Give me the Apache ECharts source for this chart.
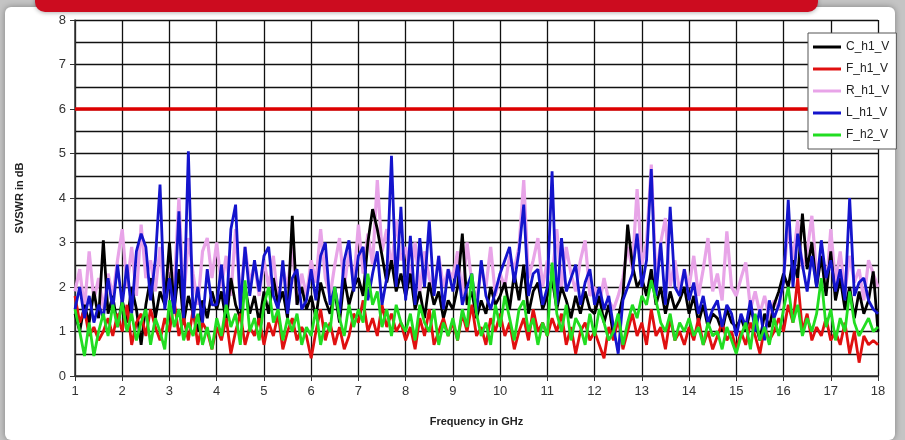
<!DOCTYPE html>
<html>
<head>
<meta charset="utf-8">
<script src="https://cdn.jsdelivr.net/npm/echarts@6/dist/echarts.min.js"></script>
<style>
html,body{margin:0;padding:0;background:#fff;}
#chart{width:905px;height:440px;}
</style>
</head>
<body>
<div id="chart"></div>
<script>
// Frequency grid (GHz), sampled every 0.1 GHz from 1 to 18
const freqStart = 1, freqStep = 0.1, freqCount = 171;
const freqGHz = Array.from({length: freqCount}, (_, i) => +(freqStart + i * freqStep).toFixed(1));

const seriesNames = ['C_h1_V', 'F_h1_V', 'R_h1_V', 'L_h1_V', 'F_h2_V'];
const limitValue = 6;
const xTicks = [1,2,3,4,5,6,7,8,9,10,11,12,13,14,15,16,17,18];
const yTicks = [0,1,2,3,4,5,6,7,8];

const C_h1_V = [
 1.4,1.0,1.6,1.2,1.9,1.3,3.05,1.4,1.8,1.1,
 1.7,1.2,2.0,1.5,0.7,1.6,2.2,1.3,1.9,1.6,
 3.0,1.5,2.4,1.2,1.8,1.4,1.0,1.7,1.3,1.9,
 1.5,1.9,1.2,2.2,1.6,1.3,2.0,1.4,1.8,1.2,
 1.9,1.4,2.2,1.6,1.9,1.3,3.6,1.6,2.0,1.5,
 1.8,1.3,2.1,1.7,1.4,1.9,1.2,2.2,1.6,2.0,
 2.2,1.8,3.0,3.75,3.3,2.7,2.1,2.6,1.9,2.3,
 1.8,2.3,1.5,1.9,1.3,2.1,1.6,1.9,1.3,1.7,
 1.5,2.0,3.2,1.6,1.9,1.3,1.7,1.4,2.0,1.6,
 1.8,2.1,1.5,2.3,1.7,2.5,1.4,1.9,2.1,1.5,
 1.8,2.2,1.5,2.0,1.7,1.3,1.8,1.4,1.9,1.5,
 1.4,1.8,1.2,1.6,0.9,1.3,1.8,3.4,2.5,2.0,
 2.2,1.8,2.4,1.6,2.0,1.4,1.9,1.5,1.7,2.0,
 1.4,1.8,1.2,1.6,1.1,1.4,1.3,1.0,1.5,1.2,
 1.1,1.3,1.0,1.5,1.2,0.8,1.4,1.1,1.6,1.9,
 2.3,2.0,2.6,2.2,3.65,2.4,3.0,2.0,2.7,1.8,
 2.8,1.7,2.2,1.5,2.0,1.3,1.9,1.4,1.7,2.35,
 1.0
];

const F_h1_V = [
 1.8,1.2,1.5,0.9,1.1,0.8,1.0,1.3,0.9,1.4,
 1.0,1.6,0.7,1.2,1.4,0.9,1.5,1.1,0.8,1.3,
 1.0,1.7,0.9,1.3,0.8,1.5,0.7,1.2,1.0,0.6,
 1.1,0.8,1.3,0.5,1.0,1.4,0.7,1.1,0.9,1.3,
 0.7,1.2,0.9,1.4,0.6,1.0,1.3,0.8,1.1,0.9,
 0.4,1.0,1.5,0.8,1.2,0.7,1.1,0.6,0.9,1.4,
 1.2,1.7,1.0,1.3,0.9,1.6,1.1,1.4,1.0,1.2,
 0.8,1.1,0.6,1.3,0.9,1.5,0.7,1.0,1.3,0.9,
 1.2,0.8,1.4,1.0,1.6,0.9,1.1,0.7,1.3,1.0,
 1.4,0.9,1.2,0.6,1.0,1.3,0.8,1.5,1.0,1.2,
 0.9,1.3,1.0,1.4,0.7,1.1,0.5,1.0,1.2,0.8,
 1.0,0.7,0.4,1.1,0.8,1.3,0.6,1.0,1.4,0.9,
 1.2,0.7,1.5,0.9,1.1,0.6,1.3,0.8,1.0,0.7,
 1.1,0.8,1.3,0.7,1.0,0.6,0.9,1.2,0.8,1.0,
 0.6,1.0,0.7,1.2,0.9,0.5,1.1,0.8,1.0,1.3,
 1.0,1.6,1.2,2.2,1.0,1.4,0.8,1.1,0.9,1.3,
 0.8,1.0,0.7,1.2,0.5,1.0,0.3,0.9,0.7,0.8,
 0.7
];

const R_h1_V = [
 1.9,2.4,1.5,2.8,1.7,2.2,1.5,2.3,1.8,2.6,
 3.3,2.0,2.9,1.8,3.4,2.2,2.6,1.9,2.9,1.7,
 2.6,2.0,4.0,1.7,3.1,2.3,1.6,2.8,3.1,2.2,
 3.0,2.0,2.7,1.8,3.3,1.7,2.9,2.1,2.5,1.8,
 2.6,2.0,2.7,1.6,2.4,2.0,2.9,1.6,2.3,1.8,
 2.6,2.1,3.3,2.2,1.8,2.5,3.1,2.0,2.8,2.1,
 3.4,2.3,3.2,2.5,4.4,2.8,3.3,2.4,3.5,2.6,
 2.9,2.2,3.0,1.9,2.8,2.2,1.9,2.7,2.0,2.4,
 2.2,2.8,1.8,3.0,2.1,1.7,2.4,2.0,2.9,1.8,
 2.3,2.0,2.7,2.4,2.9,4.4,2.2,2.6,3.1,2.0,
 2.6,2.2,3.3,2.0,2.9,2.3,1.9,2.6,3.05,1.8,
 2.0,1.6,2.2,1.7,1.5,1.8,2.2,2.9,2.4,4.2,
 2.5,3.0,4.75,2.2,3.0,3.55,2.0,2.6,1.9,2.4,
 2.0,2.7,1.8,2.4,3.1,1.9,2.3,1.7,3.25,2.0,
 1.8,2.2,2.55,1.5,1.9,1.4,1.8,1.3,1.7,1.5,
 2.2,3.4,2.6,3.5,2.4,2.8,3.6,2.3,2.7,1.9,
 3.3,2.1,2.8,1.9,2.7,2.1,2.4,1.7,2.6,2.3,
 2.0
];

const L_h1_V = [
 1.5,2.0,1.3,1.8,1.2,1.6,1.3,2.2,1.5,2.5,
 1.6,2.5,1.4,2.8,3.2,2.9,1.7,2.6,4.3,1.5,
 2.2,1.4,3.7,1.3,5.05,1.3,2.0,1.2,2.4,1.6,
 1.6,2.5,1.4,3.3,3.85,1.5,2.9,1.8,2.6,1.9,
 2.7,2.9,1.8,1.5,2.6,1.4,2.2,2.4,1.5,1.7,
 2.4,1.7,2.7,3.0,1.6,2.0,1.4,2.6,3.05,1.9,
 2.7,2.9,1.7,2.3,2.8,1.6,2.2,4.95,2.0,3.8,
 1.7,3.15,1.6,3.1,2.0,3.5,1.8,2.7,1.5,2.4,
 1.9,2.5,1.6,2.0,2.3,1.4,2.6,1.8,1.5,1.9,
 2.3,2.6,2.9,2.1,2.8,3.85,1.8,2.3,2.4,1.6,
 2.0,4.6,1.6,3.1,1.9,2.2,2.5,1.6,2.1,2.4,
 1.6,2.0,1.5,1.8,1.1,0.5,1.7,2.0,2.3,3.2,
 2.0,2.6,4.65,1.8,3.0,1.6,3.8,2.0,1.8,2.4,
 1.7,2.1,1.4,1.8,1.2,1.5,1.7,1.1,1.6,1.4,
 0.9,1.4,1.1,1.7,1.0,1.5,0.8,1.7,1.3,1.6,
 2.1,3.96,2.0,3.2,2.5,1.9,2.7,2.0,3.05,2.2,
 2.6,1.9,2.4,1.7,4.0,1.8,2.1,2.2,1.7,1.5,
 1.4
];

const F_h2_V = [
 1.5,1.0,0.45,1.2,0.45,1.0,1.4,0.9,1.6,1.1,
 1.65,1.0,1.4,0.8,1.2,1.5,0.7,1.3,1.0,0.6,
 1.7,1.1,1.5,0.8,1.2,0.9,1.4,0.7,1.1,0.6,
 1.3,0.9,1.6,1.1,1.4,0.7,2.15,1.0,1.3,0.8,
 1.6,2.0,1.2,1.5,0.8,1.3,1.0,1.4,0.7,1.1,
 0.9,1.5,0.7,1.2,1.0,2.0,1.3,0.9,1.6,1.1,
 1.5,1.2,2.3,1.6,1.9,1.1,1.5,0.9,1.6,1.2,
 1.0,1.4,0.8,1.6,1.2,1.0,1.5,0.7,1.2,0.9,
 1.3,0.8,1.5,1.1,2.3,1.4,0.9,1.2,0.7,1.6,
 1.1,1.8,1.3,0.8,1.5,1.7,1.0,1.3,0.7,1.2,
 0.9,2.55,1.4,1.0,1.6,0.8,1.3,1.1,0.7,1.4,
 0.9,1.5,1.2,0.8,1.0,1.4,0.7,1.2,1.6,1.3,
 1.8,1.6,2.15,1.7,1.2,1.0,1.4,0.8,1.2,1.0,
 1.3,0.9,1.1,0.7,1.2,0.9,1.0,0.6,1.1,0.8,
 0.5,0.9,1.2,0.6,1.4,0.8,1.1,0.7,1.3,0.9,
 1.5,2.0,1.2,1.6,0.9,1.3,1.0,1.4,2.2,1.1,
 1.5,0.8,1.3,1.0,1.9,1.2,0.9,1.1,1.3,1.0,
 1.1
];

const seriesValues = {C_h1_V, F_h1_V, R_h1_V, L_h1_V, F_h2_V};
const seriesColors = {C_h1_V:'#000000', F_h1_V:'#e01010', R_h1_V:'#e8a4e8', L_h1_V:'#1414cc', F_h2_V:'#22dd22'};
const seriesZ = {R_h1_V:2, C_h1_V:3, F_h1_V:4, L_h1_V:5, F_h2_V:6};
const drawOrder = ['R_h1_V','C_h1_V','F_h1_V','L_h1_V','F_h2_V'];

const pairs = arr => freqGHz.map((f, i) => [f, arr[i]]);

const chart = echarts.init(document.getElementById('chart'), null, {renderer:'canvas'});
const font = '"Liberation Sans", Arial, sans-serif';

const series = drawOrder.map(name => {
  const s = {
    name, type:'line', data: pairs(seriesValues[name]),
    showSymbol:false, symbol:'none', z: seriesZ[name],
    lineStyle:{color: seriesColors[name], width: name === 'R_h1_V' ? 3.2 : 2.8},
    itemStyle:{color: seriesColors[name]},
    animation:false
  };
  if (name === 'F_h1_V') {
    s.markLine = {
      silent:true, symbol:'none', animation:false,
      label:{show:false},
      lineStyle:{color:'#dd0000', width:3.5, type:'solid'},
      data:[{yAxis: limitValue}]
    };
  }
  return s;
});

chart.setOption({
  backgroundColor:'#ffffff',
  animation:false,
  graphic:[
    {type:'rect', z:-10, shape:{x:0,y:0,width:905,height:440}, style:{fill:'#c4c4c4'}},
    {type:'rect', z:-9, shape:{x:5,y:7,width:890,height:433,r:6}, style:{fill:'#ffffff', shadowBlur:6, shadowColor:'rgba(0,0,0,0.35)'}},
    {type:'rect', z:100, shape:{x:35,y:-20,width:783,height:32,r:10}, style:{fill:'#cc0c1f', shadowBlur:4, shadowColor:'rgba(0,0,0,0.3)', shadowOffsetY:1}}
  ],
  grid:{left:75, right:27, top:20, bottom:64, containLabel:false},
  legend:{
    data: seriesNames, z:20,
    orient:'vertical', left:808, top:33,
    backgroundColor:'#ffffff', borderColor:'#555555', borderWidth:1,
    padding:[8,7,8,5], itemGap:10, itemWidth:28, itemHeight:3,
    icon:'rect',
    textStyle:{fontFamily:font, fontSize:12, color:'#222'}
  },
  xAxis:{
    type:'value', min:1, max:18, interval:1,
    name:'Frequency in GHz', nameLocation:'middle', nameGap:40,
    nameTextStyle:{fontFamily:font, fontSize:11, fontWeight:'bold', color:'#222'},
    axisLine:{show:true, onZero:false, lineStyle:{color:'#333', width:1.5}},
    axisTick:{show:true, inside:false, length:5, lineStyle:{color:'#333'}},
    axisLabel:{fontFamily:font, fontSize:13, color:'#333', margin:9,
      formatter: v => xTicks.includes(v) ? String(v) : ''},
    splitLine:{show:true, lineStyle:{color:'#111', width:1.3}}
  },
  yAxis:{
    type:'value', min:0, max:8, interval:1,
    name:'SVSWR in dB', nameLocation:'middle', nameGap:50, nameRotate:90,
    nameTextStyle:{fontFamily:font, fontSize:11, fontWeight:'bold', color:'#222'},
    axisLine:{show:true, lineStyle:{color:'#333', width:1.5}},
    axisTick:{show:true, length:5, lineStyle:{color:'#333'}},
    axisLabel:{fontFamily:font, fontSize:13, color:'#333', margin:9,
      formatter: v => yTicks.includes(v) ? String(v) : ''},
    splitLine:{show:true, lineStyle:{color:'#111', width:1.3}},
    minorTick:{show:false, splitNumber:2},
    minorSplitLine:{show:true, lineStyle:{color:'#111', width:1.3}}
  },
  series
});
</script>
</body>
</html>
